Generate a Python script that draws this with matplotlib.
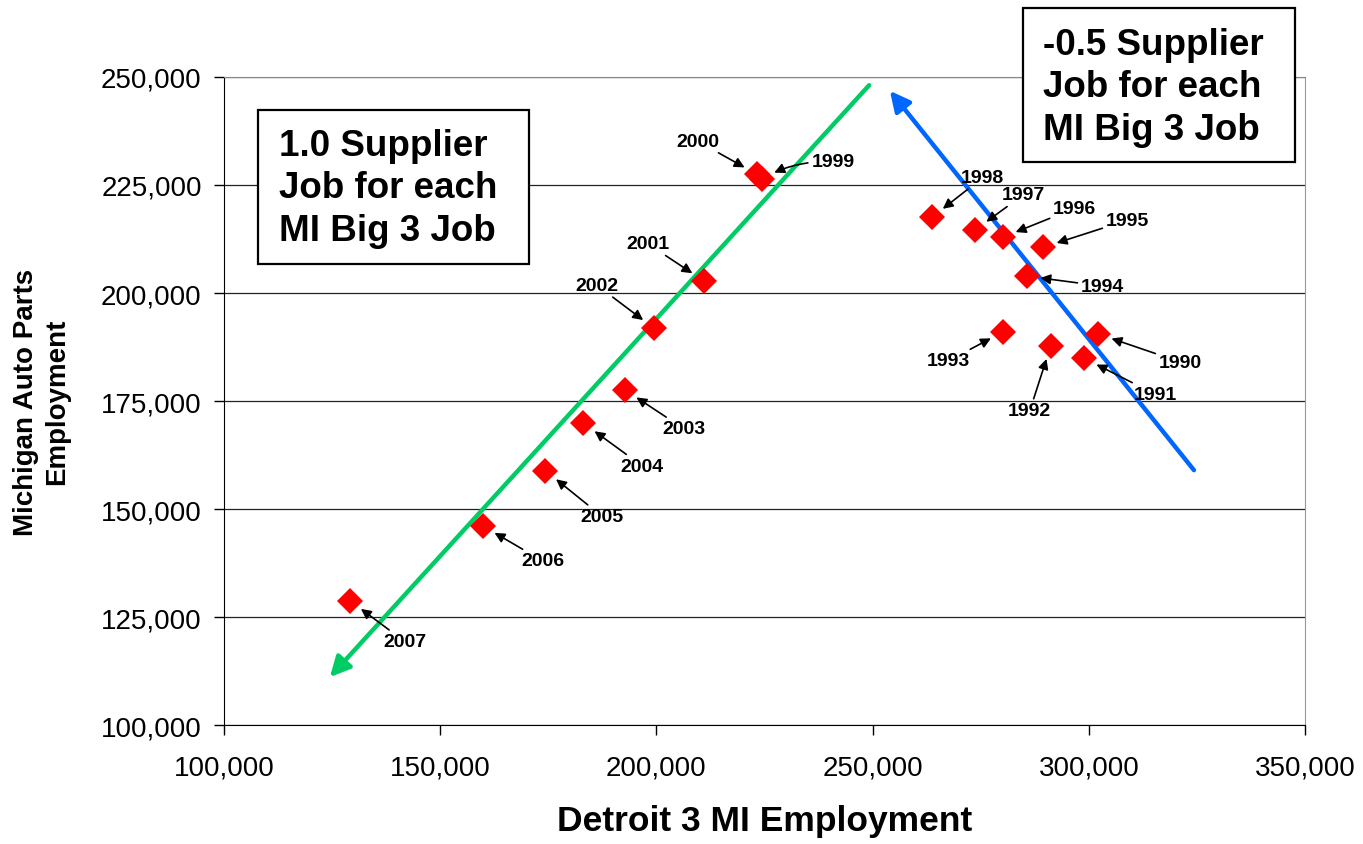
import matplotlib.pyplot as plt
from matplotlib.patches import Rectangle
from matplotlib.ticker import FuncFormatter, MultipleLocator

plt.rcParams['font.family'] = ['Liberation Sans', 'DejaVu Sans']

# data
years = [1990, 1991, 1992, 1993, 1994, 1995, 1996, 1997, 1998,
         1999, 2000, 2001, 2002, 2003, 2004, 2005, 2006, 2007]
detroit3_jobs = [302200, 298900, 291200, 280200, 285600, 289500, 280100, 273700, 263700,
                 224400, 223200, 211000, 199500, 192700, 183100, 174300, 159800, 129100]
parts_jobs = [190500, 184900, 187800, 191000, 203900, 210600, 212900, 214600, 217500,
              226400, 227500, 202800, 191800, 177600, 169900, 158900, 146100, 128800]

# trend arrows (tail -> head)
green_x = [249200, 124500]
green_y = [248100, 111100]
blue_x = [324300, 254000]
blue_y = [159000, 246800]

# where each year label sits relative to its point (pixels)
label_offsets = {
    1990: (82, -28), 1991: (71, -36), 1992: (-21, -65), 1993: (-55, -29),
    1994: (76, -10), 1995: (84, 27), 1996: (72, 29), 1997: (48, 35),
    1998: (51, 40), 1999: (71, 17), 2000: (-59, 33), 2001: (-56, 37),
    2002: (-57, 43), 2003: (59, -39), 2004: (59, -43), 2005: (57, -46),
    2006: (60, -35), 2007: (55, -41),
}

fig = plt.figure(figsize=(13.63, 8.45), dpi=100)
ax = fig.add_axes([0.1643, 0.1408, 0.7932, 0.7669])

ax.set_xlim(100000, 350000)
ax.set_ylim(100000, 250000)
ax.xaxis.set_major_locator(MultipleLocator(50000))
ax.yaxis.set_major_locator(MultipleLocator(25000))
fmt = FuncFormatter(lambda v, p: f'{int(v):,}')
ax.xaxis.set_major_formatter(fmt)
ax.yaxis.set_major_formatter(fmt)
ax.tick_params(axis='both', direction='out', length=7, width=1, labelsize=20, color='black')
ax.tick_params(axis='x', pad=14)
ax.tick_params(axis='y', pad=9)

ax.yaxis.grid(True, color='#222222', lw=0.9)
ax.set_axisbelow(True)
ax.spines['top'].set_color('#888888')
ax.spines['right'].set_color('#999999')

# trend lines
ax.annotate('', xy=(green_x[1], green_y[1]), xytext=(green_x[0], green_y[0]),
            arrowprops=dict(arrowstyle='-|>', color='#00CC66', lw=3.2,
                            mutation_scale=30, shrinkA=0, shrinkB=0))
ax.annotate('', xy=(blue_x[1], blue_y[1]), xytext=(blue_x[0], blue_y[0]),
            arrowprops=dict(arrowstyle='-|>', color='#0066FF', lw=3.2,
                            mutation_scale=30, shrinkA=0, shrinkB=0))

ax.plot(detroit3_jobs, parts_jobs, linestyle='none', marker='D', color='#FF0000',
        markersize=13.5, markeredgewidth=0, zorder=5)

for yr, x, y in zip(years, detroit3_jobs, parts_jobs):
    dx, dy = label_offsets[yr]
    rad = 0.15 if yr == 1999 else 0.0
    ax.annotate(str(yr), xy=(x, y), xytext=(dx, dy), textcoords='offset pixels',
                ha='center', va='center', fontsize=14, fontweight='bold',
                arrowprops=dict(arrowstyle='-|>', color='black', lw=1.2,
                                mutation_scale=15, shrinkA=0.5, shrinkB=10,
                                connectionstyle=f'arc3,rad={rad}'),
                zorder=6)

# text boxes
ax.add_patch(Rectangle((0.0315, 0.711), 0.2506, 0.238, transform=ax.transAxes,
                       facecolor='white', edgecolor='black', lw=1.6, clip_on=False, zorder=7))
ax.text(0.0509, 0.829, '1.0 Supplier\nJob for each\nMI Big 3 Job', transform=ax.transAxes,
        ha='left', va='center', fontsize=26.5, fontweight='bold', linespacing=1.27, zorder=8)

ax.add_patch(Rectangle((0.739, 0.869), 0.2517, 0.237, transform=ax.transAxes,
                       facecolor='white', edgecolor='black', lw=1.6, clip_on=False, zorder=7))
ax.text(0.7576, 0.9846, '-0.5 Supplier\nJob for each\nMI Big 3 Job', transform=ax.transAxes,
        ha='left', va='center', fontsize=26.5, fontweight='bold', linespacing=1.27,
        zorder=8, clip_on=False)

ax.set_xlabel('Detroit 3 MI Employment', fontsize=25.5, fontweight='bold')
ax.xaxis.set_label_coords(0.5, -0.122)
ax.set_ylabel('Michigan Auto Parts\nEmployment', fontsize=20, fontweight='bold',
              linespacing=1.25)
ax.yaxis.set_label_coords(-0.142, 0.5)

fig.savefig('out.png', dpi=100)
